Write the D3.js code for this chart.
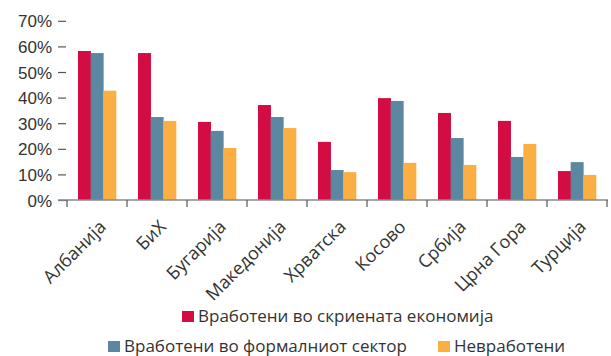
<!DOCTYPE html>
<html>
<head>
<meta charset="utf-8">
<script src="https://cdn.jsdelivr.net/npm/d3@7"></script>
<style>
  html, body { margin: 0; padding: 0; background: #fff; }
  svg { display: block; font-family: "Open Sans", "Noto Sans", sans-serif; }
</style>
</head>
<body>
<svg id="chart" width="611" height="356"></svg>
<script>
// Countries along the x axis
const categories = ["Албанија", "БиХ", "Бугарија", "Македонија", "Хрватска", "Косово", "Србија", "Црна Гора", "Турција"];
// Shares in percent for each group
const hiddenEconomy = [58.2, 57.4, 30.5, 37.1, 22.7, 39.8, 34.0, 30.9, 11.3];
const formalSector  = [57.4, 32.4, 27.0, 32.4, 11.7, 38.7, 24.2, 16.8, 14.8];
const unemployed    = [42.7, 30.9, 20.3, 28.1, 10.9, 14.5, 13.7, 21.9, 9.8];
const seriesNames = ["Вработени во скриената економија", "Вработени во формалниот сектор", "Невработени"];
const yTicks = [0, 10, 20, 30, 40, 50, 60, 70];

const colors = ["#D30D43", "#5B87A0", "#FBAF43"];
const textColor = "#333333";
const seriesValues = [hiddenEconomy, formalSector, unemployed];

const svg = d3.select("#chart");

const x = d3.scaleBand().domain(categories).range([67, 607]).paddingInner(0).paddingOuter(0);
const xInner = d3.scaleBand().domain(d3.range(seriesNames.length))
  .range([11, x.bandwidth() - 11]);
const y = d3.scaleLinear().domain([0, 70]).range([200, 20.8]);

// Bars
const groups = svg.append("g").selectAll("g")
  .data(categories)
  .join("g")
  .attr("transform", d => `translate(${x(d)},0)`);

groups.selectAll("rect")
  .data((d, i) => seriesValues.map((vals, s) => ({ s, v: vals[i] })))
  .join("rect")
  .attr("x", d => xInner(d.s))
  .attr("width", xInner.bandwidth() + 0.3)
  .attr("y", d => y(d.v))
  .attr("height", d => y(0) - y(d.v))
  .attr("fill", d => colors[d.s]);

// Y axis: short tick dashes and percentage labels, no spine
const yAxis = svg.append("g").attr("transform", "translate(66,0)")
  .call(d3.axisLeft(y).tickValues(yTicks).tickSize(8).tickPadding(6)
    .tickFormat(d => d + "%"));
yAxis.select(".domain").remove();
yAxis.selectAll(".tick line").attr("stroke", "#555").attr("stroke-width", 1.2);
yAxis.selectAll(".tick text")
  .attr("fill", textColor)
  .style("font-size", "17px")
  .attr("dy", "0.36em");

// X axis with boundary ticks between categories
const boundaries = d3.range(categories.length + 1).map(i => 67 + i * x.bandwidth());
const xAxis = svg.append("g");
xAxis.append("line")
  .attr("x1", 58).attr("x2", 608)
  .attr("y1", y(0)).attr("y2", y(0))
  .attr("stroke", "#8a8a8a").attr("stroke-width", 1.6);
xAxis.selectAll("line.bt")
  .data(boundaries)
  .join("line")
  .attr("class", "bt")
  .attr("x1", d => d).attr("x2", d => d)
  .attr("y1", y(0)).attr("y2", y(0) + 7)
  .attr("stroke", "#555").attr("stroke-width", 1.2);

// Rotated category labels
xAxis.selectAll("text.cat")
  .data(categories)
  .join("text")
  .attr("class", "cat")
  .attr("text-anchor", "end")
  .attr("fill", textColor)
  .style("font-size", "18px")
  .attr("transform", d => `translate(${x(d) + x.bandwidth() / 2 + 10},228) rotate(-45)`)
  .text(d => d);

// Legend
const legendItems = [
  { s: 0, x: 182, y: 311 },
  { s: 1, x: 108, y: 341 },
  { s: 2, x: 438, y: 341 }
];
const legend = svg.append("g").selectAll("g")
  .data(legendItems)
  .join("g")
  .attr("transform", d => `translate(${d.x},${d.y})`);
legend.append("rect")
  .attr("width", 12).attr("height", 11)
  .attr("fill", d => colors[d.s]);
legend.append("text")
  .attr("x", 16)
  .attr("y", 11)
  .attr("fill", textColor)
  .style("font-size", "17px")
  .text(d => seriesNames[d.s]);
</script>
</body>
</html>
